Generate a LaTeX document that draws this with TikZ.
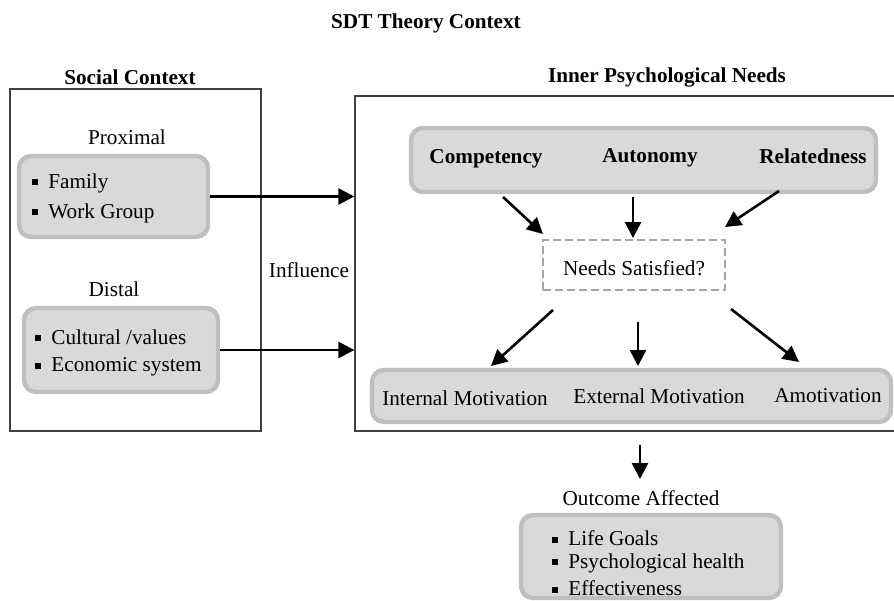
\documentclass[tikz,border=0pt]{standalone}
\usepackage{fontspec}
\setmainfont{Liberation Serif}
\usetikzlibrary{arrows.meta}
\definecolor{boxfill}{HTML}{D9D9D9}
\definecolor{boxedge}{HTML}{BFBFBF}
\definecolor{dashgray}{HTML}{A6A6A6}
\definecolor{panelline}{HTML}{404040}
\newcommand{\bulletsq}{\rule[1.4pt]{3pt}{3pt}\hspace{5pt}}
\begin{document}
\begin{tikzpicture}[x=0.5pt,y=-0.5pt,
  txt/.style={font=\fontsize{10.6}{12.7}\selectfont, inner sep=0pt},
  bold/.style={font=\fontsize{10.6}{12.7}\selectfont\bfseries, inner sep=0pt},
  item/.style={txt, anchor=west},
  panel/.style={draw=panelline, line width=0.65pt, inner sep=0pt},
  graybox/.style={draw=boxedge, fill=boxfill, line width=2.2pt, rounded corners=6pt, inner sep=0pt},
  checkbox/.style={draw=dashgray, line width=0.8pt, dash pattern=on 4pt off 2pt, inner sep=0pt},
  arr/.style={-{Triangle[length=8pt,width=8pt]}, line width=1.3pt},
  ]
\useasboundingbox (0,0) rectangle (894,600);
\clip (0,0) rectangle (894,600);

% headings
\node[bold] (title) at (426,23) {SDT Theory Context};
\node[bold] (socialT) at (130,77) {Social Context};
\node[bold] (innerT) at (667,77) {Inner Psychological Needs};

% outer panels
\node[panel, minimum width=125.5pt, minimum height=171pt] (social) at (135.5,260) {};
\node[panel, minimum width=271pt, minimum height=167.5pt] (inner) at (626,263.5) {};

% social context: proximal and distal groups
\node[txt] (proximal) at (127,137) {Proximal};
\node[graybox, minimum width=94.5pt, minimum height=40.5pt] (prox) at (113.5,196.5) {};
\node[item] (family) at (32,183) {\bulletsq Family};
\node[item] (workgroup) at (32,213) {\bulletsq Work Group};

\node[txt] (distal) at (114,289) {Distal};
\node[graybox, minimum width=97pt, minimum height=42pt] (dist) at (121,350) {};
\node[item] (cultural) at (35,337) {\bulletsq Cultural /values};
\node[item] (economic) at (35,367) {\bulletsq Economic system};

\node[txt] (influence) at (309,270) {Influence};

% inner psychological needs
\node[graybox, minimum width=232.5pt, minimum height=32pt] (needs) at (643.5,160) {};
\node[bold] (competency) at (486,159) {Competency};
\node[bold] (autonomy) at (650,158) {Autonomy};
\node[bold] (relatedness) at (813,156) {Relatedness};

\node[checkbox, minimum width=91pt, minimum height=25pt] (check) at (634,265) {};
\node[txt] (satisfied) at (634,268) {Needs Satisfied?};

\node[graybox, minimum width=259.5pt, minimum height=26pt] (motiv) at (631.5,396) {};
\node[txt] (internal) at (465,398) {Internal Motivation};
\node[txt] (external) at (659,396) {External Motivation};
\node[txt] (amotiv) at (828,396) {Amotivation};

% outcomes
\node[txt] (outcomeT) at (641,498) {Outcome Affected};
\node[graybox, minimum width=130pt, minimum height=41.5pt] (outc) at (651,556.5) {};
\node[item] (lifegoals) at (552,538) {\bulletsq Life Goals};
\node[item] (health) at (552,563) {\bulletsq Psychological health};
\node[item] (effect) at (552,588) {\bulletsq Effectiveness};

% free arrow ends
\coordinate (c1s) at (503,197); \coordinate (c1e) at (543,234);
\coordinate (a1s) at (633,197); \coordinate (a1e) at (633,238);
\coordinate (r1s) at (779,191); \coordinate (r1e) at (725,227);
\coordinate (l2s) at (553,310); \coordinate (l2e) at (491,366);
\coordinate (m2s) at (638,322); \coordinate (m2e) at (638,366);
\coordinate (r2s) at (731,309); \coordinate (r2e) at (799,362);
\coordinate (o3s) at (640,445); \coordinate (o3e) at (640,479);

% influence arrows
\draw[arr] (prox.east) -- (inner.west |- prox.east);
\draw[arr] (dist.east) -- (inner.west |- dist.east);

% needs to satisfaction
\draw[arr] (c1s) -- (c1e);
\draw[arr] (a1s) -- (a1e);
\draw[arr] (r1s) -- (r1e);

% satisfaction to motivation
\draw[arr] (l2s) -- (l2e);
\draw[arr] (m2s) -- (m2e);
\draw[arr] (r2s) -- (r2e);

% motivation to outcomes
\draw[arr] (o3s) -- (o3e);
\end{tikzpicture}
\end{document}
